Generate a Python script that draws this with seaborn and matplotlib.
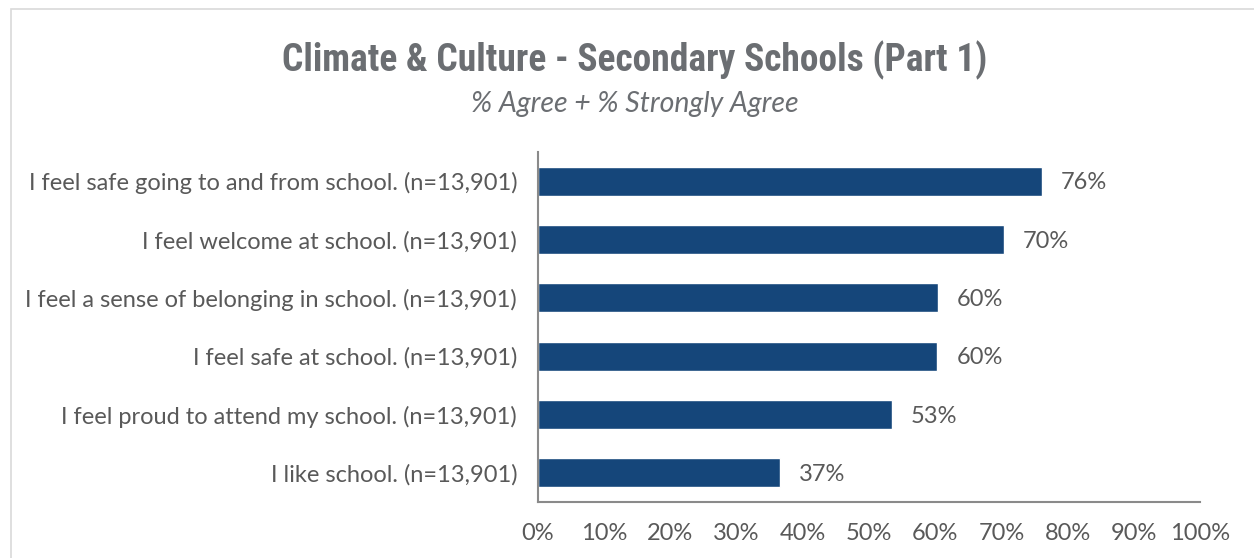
import matplotlib
matplotlib.use('Agg')
import matplotlib.pyplot as plt
import seaborn as sns
import pandas as pd
from matplotlib.patches import Rectangle

# data
statements = [
    'I feel safe going to and from school. (n=13,901)',
    'I feel welcome at school. (n=13,901)',
    'I feel a sense of belonging in school. (n=13,901)',
    'I feel safe at school. (n=13,901)',
    'I feel proud to attend my school. (n=13,901)',
    'I like school. (n=13,901)',
]
pct_agree = [76.1, 70.4, 60.4, 60.3, 53.4, 36.5]
pct_labels = ['76%', '70%', '60%', '60%', '53%', '37%']
x_ticks = [0, 10, 20, 30, 40, 50, 60, 70, 80, 90, 100]

df = pd.DataFrame({'statement': statements, 'pct': pct_agree})

sns.set_style('white')
plt.rcParams['font.family'] = ['Lato', 'DejaVu Sans']

fig = plt.figure(figsize=(12.54, 5.58), dpi=100)
ax = fig.add_axes([538 / 1254, 1 - 502 / 558, 662 / 1254, 350 / 558])

sns.barplot(data=df, x='pct', y='statement', color='#15467a', width=0.5,
            saturation=1, ax=ax)

ax.set_xlim(0, 100)
ax.set_ylim(5.5, -0.5)
ax.set_xticks(x_ticks)
ax.set_xticklabels([f'{t}%' for t in x_ticks])
ax.set_xlabel('')
ax.set_ylabel('')
ax.tick_params(axis='both', length=0, labelsize=17, colors='#595959')
ax.tick_params(axis='x', pad=15)
ax.tick_params(axis='y', pad=15)

for side in ['top', 'right']:
    ax.spines[side].set_visible(False)
for side in ['left', 'bottom']:
    ax.spines[side].set_color('#8a8a8a')
    ax.spines[side].set_linewidth(1.5)

# value labels
for i, (v, lab) in enumerate(zip(pct_agree, pct_labels)):
    ax.text(v + 2.9, i + 0.03, lab, va='center', ha='left', fontsize=17,
            color='#595959')

# chart frame
fig.patches.append(Rectangle((11 / 1254, -0.1), 1.2, 1 - 9 / 558 + 0.1,
                             transform=fig.transFigure, fill=False,
                             edgecolor='#d9d9d9', linewidth=1.2))

fig.text(635 / 1254, 1 - 60 / 558, 'Climate & Culture - Secondary Schools (Part 1)',
         ha='center', va='center', fontsize=27, fontweight='bold',
         fontstretch='condensed', color='#6b6e72',
         family=['Roboto Condensed', 'Roboto', 'DejaVu Sans'])
fig.text(635 / 1254, 1 - 104 / 558, '% Agree + % Strongly Agree', ha='center',
         va='center', fontsize=20.5, style='italic', color='#6b6e72')

fig.savefig('out.png', dpi=100)
